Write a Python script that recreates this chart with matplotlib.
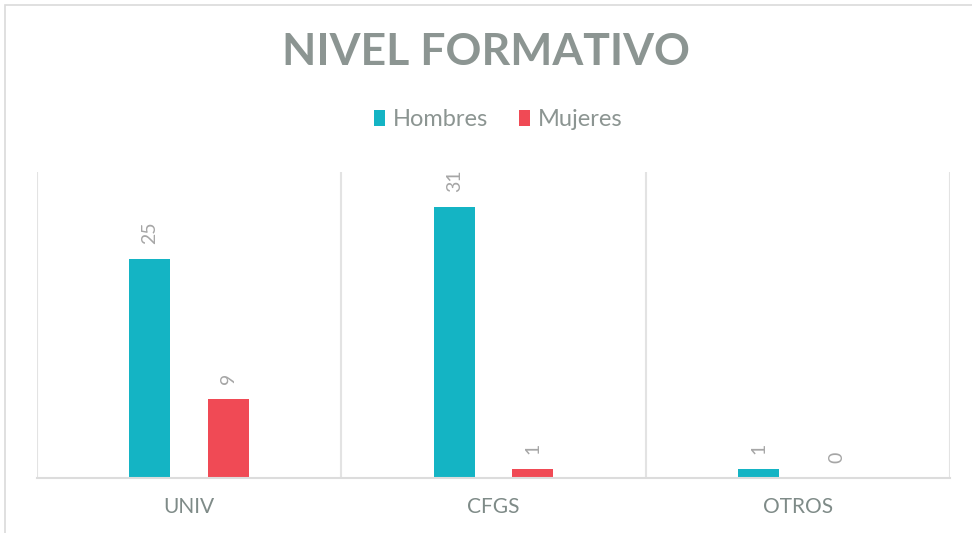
import matplotlib.pyplot as plt
import numpy as np
from matplotlib.patches import Rectangle

# data
categories = ["UNIV", "CFGS", "OTROS"]
hombres = [25, 31, 1]
mujeres = [9, 1, 0]

TEAL = "#14B4C4"
RED = "#F04A55"
GRID = "#E3E3E3"
TXT = "#8C9592"
LBL = "#A6A6A6"

fig = plt.figure(figsize=(9.72, 5.33), dpi=100)
ax = fig.add_axes([37 / 972, 1 - 478 / 533, 913 / 972, 306 / 533])

# outer chart border (partly cropped in the source)
fig.patches.append(Rectangle((5 / 972, -0.1), 1.2, 1.1 - 5 / 533,
                             transform=fig.transFigure, fill=False,
                             edgecolor="#DADADA", linewidth=1.2))

x = np.arange(len(categories))
w = 0.135
off = 0.129
b1 = ax.bar(x - off, hombres, w, color=TEAL, label="Hombres", zorder=2)
b2 = ax.bar(x + off, mujeres, w, color=RED, label="Mujeres", zorder=2)

for bars, vals in ((b1, hombres), (b2, mujeres)):
    for r, v in zip(bars, vals):
        ax.annotate(str(v), (r.get_x() + r.get_width() / 2, r.get_height()),
                    xytext=(0, 11), textcoords="offset points",
                    rotation=90, ha="center", va="bottom",
                    fontsize=14, color=LBL, family="Lato")

ax.set_xlim(-0.5, 2.5)
ax.set_ylim(0, 35)

# vertical separators between categories
for xv in (-0.5, 0.5, 1.5, 2.5):
    ax.axvline(xv, color=GRID, linewidth=1.5, zorder=1)

for s in ("top", "left", "right"):
    ax.spines[s].set_visible(False)
ax.spines["bottom"].set_color("#DCDCDC")
ax.spines["bottom"].set_linewidth(1.5)

ax.set_yticks([])
ax.set_xticks(x)
ax.set_xticklabels(categories, fontsize=15, color="#7F8B88", family="Lato")
ax.tick_params(axis="x", length=0, pad=14)

fig.text(0.5, 1 - 52 / 533, "NIVEL FORMATIVO", ha="center", va="center",
         fontsize=32, fontweight="bold", color=TXT, family="Lato")

leg = fig.legend(loc="center", bbox_to_anchor=(0.513, 1 - 120 / 533), ncol=2,
                 frameon=False, handlelength=0.45, handleheight=0.65,
                 handletextpad=0.35, columnspacing=1.3,
                 prop={"family": "Lato", "size": 17})
for t in leg.get_texts():
    t.set_color(TXT)

fig.savefig("out.png", dpi=100, facecolor="white")
